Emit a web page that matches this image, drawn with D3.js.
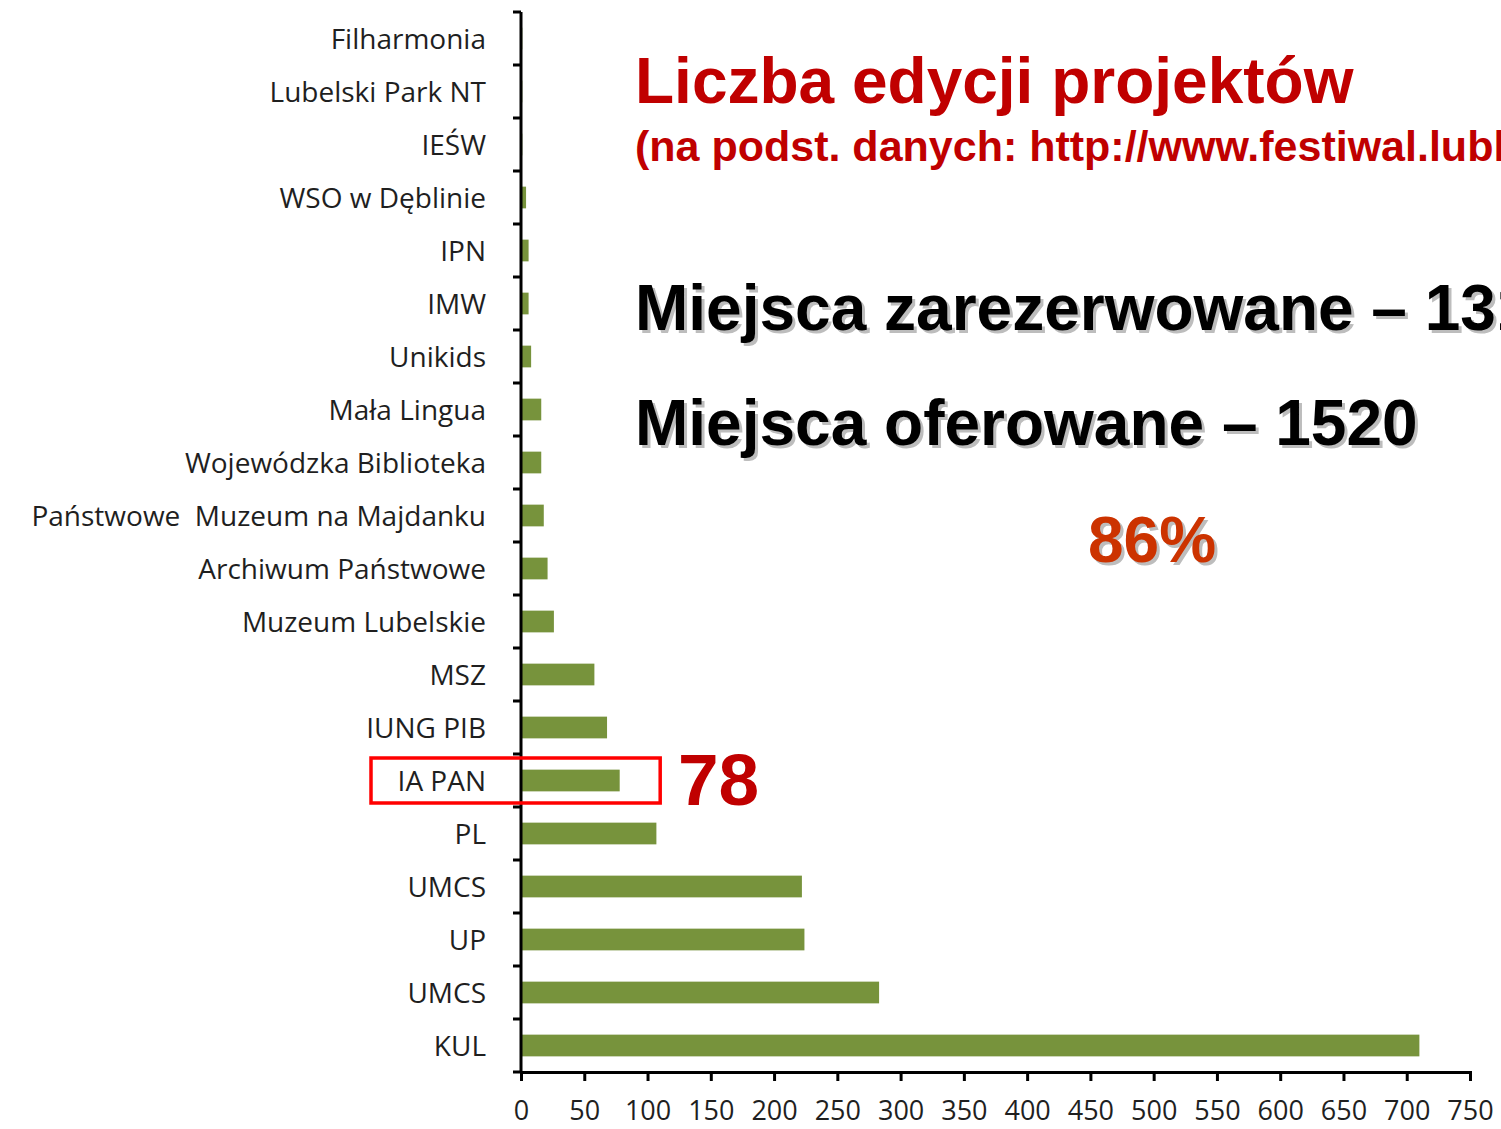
<!DOCTYPE html>
<html>
<head>
<meta charset="utf-8">
<script src="https://cdn.jsdelivr.net/npm/d3@7"></script>
<style>
  body { margin: 0; background: #fff; }
  svg { display: block; }
  .axis path, .axis line { stroke: #000; stroke-width: 3px; }
  .axis text { font-family: "Open Sans", sans-serif; fill: #1f1f1f; }
  .big { font-family: "Liberation Sans", Arial, sans-serif; font-weight: bold; }
</style>
</head>
<body>
<script>
// institutions, top to bottom, and number of project editions
var institutions = ["Filharmonia", "Lubelski Park NT", "IEŚW", "WSO w Dęblinie", "IPN", "IMW",
    "Unikids", "Mała Lingua", "Wojewódzka Biblioteka", "Państwowe  Muzeum na Majdanku",
    "Archiwum Państwowe", "Muzeum Lubelskie", "MSZ", "IUNG PIB", "IA PAN", "PL",
    "UMCS", "UP", "UMCS", "KUL"];
var editions = [1, 1, 1, 4, 6, 6, 8, 16, 16, 18, 21, 26, 58, 68, 78, 107, 222, 224, 283, 710];
var xTicks = [0, 50, 100, 150, 200, 250, 300, 350, 400, 450, 500, 550, 600, 650, 700, 750];

var highlight = "IA PAN";
var highlightValue = 78;

var width = 1501, height = 1129;
var margin = { top: 12, right: 31, bottom: 57, left: 521 };

var svg = d3.select("body")
    .append("svg")
    .attr("width", width)
    .attr("height", height);

var x = d3.scaleLinear()
    .domain([0, 750])
    .range([margin.left, width - margin.right]);

var y = d3.scaleBand()
    .domain(d3.range(institutions.length))
    .range([margin.top, height - margin.bottom]);

var barH = y.bandwidth() * 0.41;

// bars
svg.append("g")
    .selectAll("rect")
    .data(editions)
    .enter()
    .append("rect")
    .attr("x", x(0))
    .attr("y", function(d, i) { return y(i) + (y.bandwidth() - barH) / 2; })
    .attr("width", function(d) { return x(d) - x(0); })
    .attr("height", barH)
    .attr("fill", "#77933C");

// y axis, ticks between the categories
var yAxis = svg.append("g")
    .attr("class", "axis y-axis")
    .attr("transform", "translate(" + x(0) + ",0)");

yAxis.append("line")
    .attr("x1", 0).attr("x2", 0)
    .attr("y1", y.range()[0]).attr("y2", y.range()[1]);

yAxis.selectAll(".tick")
    .data(d3.range(institutions.length + 1))
    .enter()
    .append("line")
    .attr("x1", -8).attr("x2", 0)
    .attr("y1", function(d) { return margin.top + d * y.bandwidth(); })
    .attr("y2", function(d) { return margin.top + d * y.bandwidth(); });

yAxis.selectAll("text")
    .data(institutions)
    .enter()
    .append("text")
    .attr("x", -35)
    .attr("y", function(d, i) { return y(i) + y.bandwidth() / 2; })
    .attr("dy", "0.36em")
    .attr("text-anchor", "end")
    .style("font-size", "28px")
    .style("white-space", "pre")
    .text(function(d) { return d; });

// x axis
var xAxis = d3.axisBottom(x)
    .tickValues(xTicks)
    .tickSize(9)
    .tickSizeOuter(9)
    .tickPadding(20);

svg.append("g")
    .attr("class", "axis x-axis")
    .attr("transform", "translate(0," + y.range()[1] + ")")
    .call(xAxis)
    .selectAll("text")
    .style("font-size", "27px");

// highlighted bar annotation
var hi = institutions.indexOf(highlight);
svg.append("rect")
    .attr("x", 371)
    .attr("y", y(hi) + 4)
    .attr("width", x(110) - 371)
    .attr("height", y.bandwidth() - 8)
    .attr("fill", "none")
    .attr("stroke", "#FF0000")
    .attr("stroke-width", 3.5);

svg.append("text")
    .attr("class", "big")
    .attr("x", 678)
    .attr("y", y(hi) + y.bandwidth() - 2)
    .style("font-size", "73px")
    .attr("fill", "#C00000")
    .text(highlightValue);

// titles
svg.append("text")
    .attr("class", "big")
    .attr("x", 635).attr("y", 103)
    .style("font-size", "64px")
    .attr("fill", "#C00000")
    .text("Liczba edycji projektów");

svg.append("text")
    .attr("class", "big")
    .attr("x", 635).attr("y", 161)
    .style("font-size", "43px")
    .attr("fill", "#C00000")
    .text("(na podst. danych: http://www.festiwal.lublin.pl)");

// lines with a soft grey shadow
var shadowed = [
    { text: "Miejsca zarezerwowane – 1311", x: 635, y: 330, size: 64, color: "#000" },
    { text: "Miejsca oferowane – 1520", x: 635, y: 445, size: 64, color: "#000" },
    { text: "86%", x: 1088, y: 562, size: 64, color: "#CC3300" }
];

shadowed.forEach(function(s) {
    svg.append("text")
        .attr("class", "big")
        .attr("x", s.x + 3).attr("y", s.y + 3)
        .style("font-size", s.size + "px")
        .attr("fill", "#BDBDBD")
        .text(s.text);
    svg.append("text")
        .attr("class", "big")
        .attr("x", s.x).attr("y", s.y)
        .style("font-size", s.size + "px")
        .attr("fill", s.color)
        .text(s.text);
});
</script>
</body>
</html>
